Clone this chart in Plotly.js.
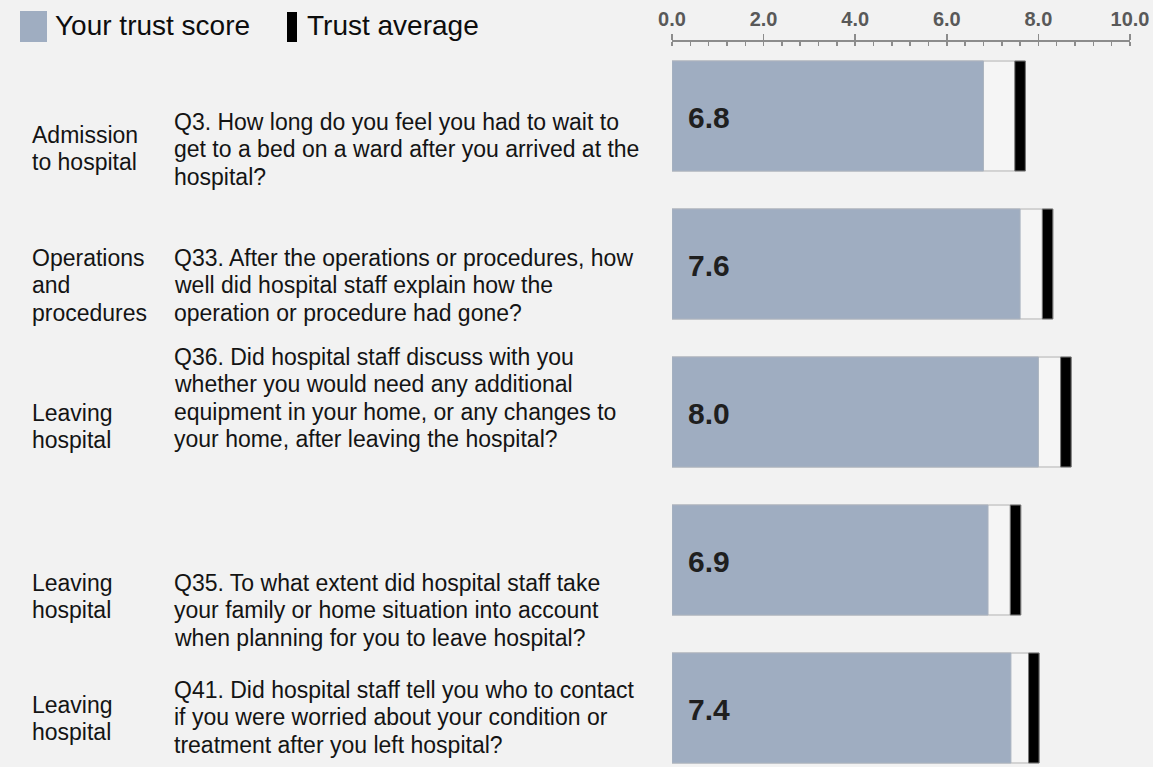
<!DOCTYPE html>
<html>
<head>
<meta charset="utf-8">
<script src="https://cdn.plot.ly/plotly-3.0.1.min.js"></script>
<style>
  html, body { margin: 0; padding: 0; background: #f2f2f2; }
  #chart { width: 1153px; height: 767px; }
</style>
</head>
<body>
<div id="chart"></div>
<script>
// ---- data ----
const categories = [
  'Admission<br>to hospital',
  'Operations<br>and<br>procedures',
  'Leaving<br>hospital',
  'Leaving<br>hospital',
  'Leaving<br>hospital'
];
const questions = [
  'Q3. How long do you feel you had to wait to<br>get to a bed on a ward after you arrived at the<br>hospital?',
  'Q33. After the operations or procedures, how<br>well did hospital staff explain how the<br>operation or procedure had gone?',
  'Q36. Did hospital staff discuss with you<br>whether you would need any additional<br>equipment in your home, or any changes to<br>your home, after leaving the hospital?',
  'Q35. To what extent did hospital staff take<br>your family or home situation into account<br>when planning for you to leave hospital?',
  'Q41. Did hospital staff tell you who to contact<br>if you were worried about your condition or<br>treatment after you left hospital?'
];
const trustScores = [6.8, 7.6, 8.0, 6.9, 7.4];
const trustAverages = [7.6, 8.2, 8.6, 7.5, 7.9];
const xTickVals = [0, 2, 4, 6, 8, 10];
const legendLabels = ['Your trust score', 'Trust average'];

// ---- layout helpers (pixel positions) ----
const W = 1153, H = 767;
const px = v => v / W;
const py = v => 1 - v / H;
const catFirstLineY = [135, 258, 413, 583, 705];
const qFirstLineY = [122, 258, 357, 583, 690];
const lineGap = 27.3;
const markerW = 0.23;

const rows = trustScores.map((_, i) => i);

const traceBg = {
  type: 'bar', orientation: 'h', y: rows,
  x: trustAverages.map(a => a + markerW / 2), base: 0,
  width: 0.743,
  marker: { color: '#f5f5f5', line: { color: '#b3b3b3', width: 1 } },
  hoverinfo: 'skip', showlegend: false
};
const traceScore = {
  type: 'bar', orientation: 'h', y: rows, x: trustScores, base: 0,
  width: 0.743, name: legendLabels[0],
  marker: { color: '#9fadc1', line: { color: '#aab3bf', width: 1 } },
  hoverinfo: 'skip', showlegend: false
};
const traceAvg = {
  type: 'bar', orientation: 'h', y: rows,
  x: trustAverages.map(() => markerW),
  base: trustAverages.map(a => a - markerW / 2),
  width: 0.743, name: legendLabels[1],
  marker: { color: '#000000', line: { color: '#777777', width: 1 } },
  hoverinfo: 'skip', showlegend: false
};

const textFont = { family: 'Liberation Sans, Arial, sans-serif', size: 23, color: '#141414' };
const annotations = [];
categories.forEach((c, i) => {
  c.split('<br>').forEach((line, j) => {
    annotations.push({
      xref: 'paper', yref: 'paper', x: px(30), y: py(catFirstLineY[i] + j * lineGap),
      xanchor: 'left', yanchor: 'middle', showarrow: false, text: line, font: textFont
    });
  });
});
questions.forEach((q, i) => {
  q.split('<br>').forEach((line, j) => {
    annotations.push({
      xref: 'paper', yref: 'paper', x: px(172), y: py(qFirstLineY[i] + j * lineGap),
      xanchor: 'left', yanchor: 'middle', showarrow: false, text: line, font: textFont
    });
  });
});
trustScores.forEach((s, i) => {
  annotations.push({
    xref: 'x', yref: 'y', x: 0, y: rows[i], xanchor: 'left', yanchor: 'middle',
    xshift: 14, yshift: -1, showarrow: false, text: '<b>' + s.toFixed(1) + '</b>',
    font: { family: 'Liberation Sans, Arial, sans-serif', size: 30, color: '#1f1f1f' }
  });
});
// legend
const legendFont = { family: 'Liberation Sans, Arial, sans-serif', size: 28, color: '#0d0d0d' };
annotations.push({ xref: 'paper', yref: 'paper', x: px(53), y: py(25), xanchor: 'left', yanchor: 'middle',
  showarrow: false, text: legendLabels[0], font: legendFont });
annotations.push({ xref: 'paper', yref: 'paper', x: px(305), y: py(25), xanchor: 'left', yanchor: 'middle',
  showarrow: false, text: legendLabels[1], font: legendFont });

const shapes = [
  { type: 'rect', xref: 'paper', yref: 'paper', x0: px(20), x1: px(47), y0: py(11), y1: py(42),
    fillcolor: '#9fadc1', line: { width: 0 } },
  { type: 'rect', xref: 'paper', yref: 'paper', x0: px(287), x1: px(297), y0: py(12), y1: py(42),
    fillcolor: '#000000', line: { width: 0 } }
];

const layout = {
  width: W, height: H,
  margin: { l: 0, r: 0, t: 0, b: 0, pad: 0 },
  paper_bgcolor: '#f2f2f2', plot_bgcolor: '#f2f2f2',
  barmode: 'overlay', showlegend: false,
  xaxis: {
    domain: [px(672), px(1130)], range: [0, 10], side: 'top', anchor: 'y',
    tickvals: xTickVals, tickformat: '.1f',
    ticks: 'outside', ticklen: 6, tickwidth: 1.5, tickcolor: '#8c8c8c',
    showline: true, linecolor: '#8c8c8c', linewidth: 2,
    showgrid: false, zeroline: false, automargin: false,
    tickfont: { family: 'Liberation Sans, Arial, sans-serif', size: 20, color: '#595959', weight: 'bold' },
    minor: { dtick: 0.4, ticks: 'inside', ticklen: 4, tickwidth: 1.5, tickcolor: '#8c8c8c', showgrid: false }
  },
  xaxis2: {
    overlaying: 'x', domain: [px(672), px(1130)], range: [0, 10], side: 'top', anchor: 'y',
    tickvals: xTickVals, ticks: 'inside', ticklen: 5, tickwidth: 1.5, tickcolor: '#8c8c8c',
    showticklabels: false, showline: false, showgrid: false, zeroline: false, automargin: false
  },
  yaxis: {
    domain: [0, py(42)], range: [4.3986, -0.5], showticklabels: false, ticks: '',
    showgrid: false, zeroline: false, showline: false, automargin: false, fixedrange: true
  },
  annotations: annotations,
  shapes: shapes
};

Plotly.newPlot('chart', [traceBg, traceScore, traceAvg], layout, { displayModeBar: false, staticPlot: true });
</script>
</body>
</html>
